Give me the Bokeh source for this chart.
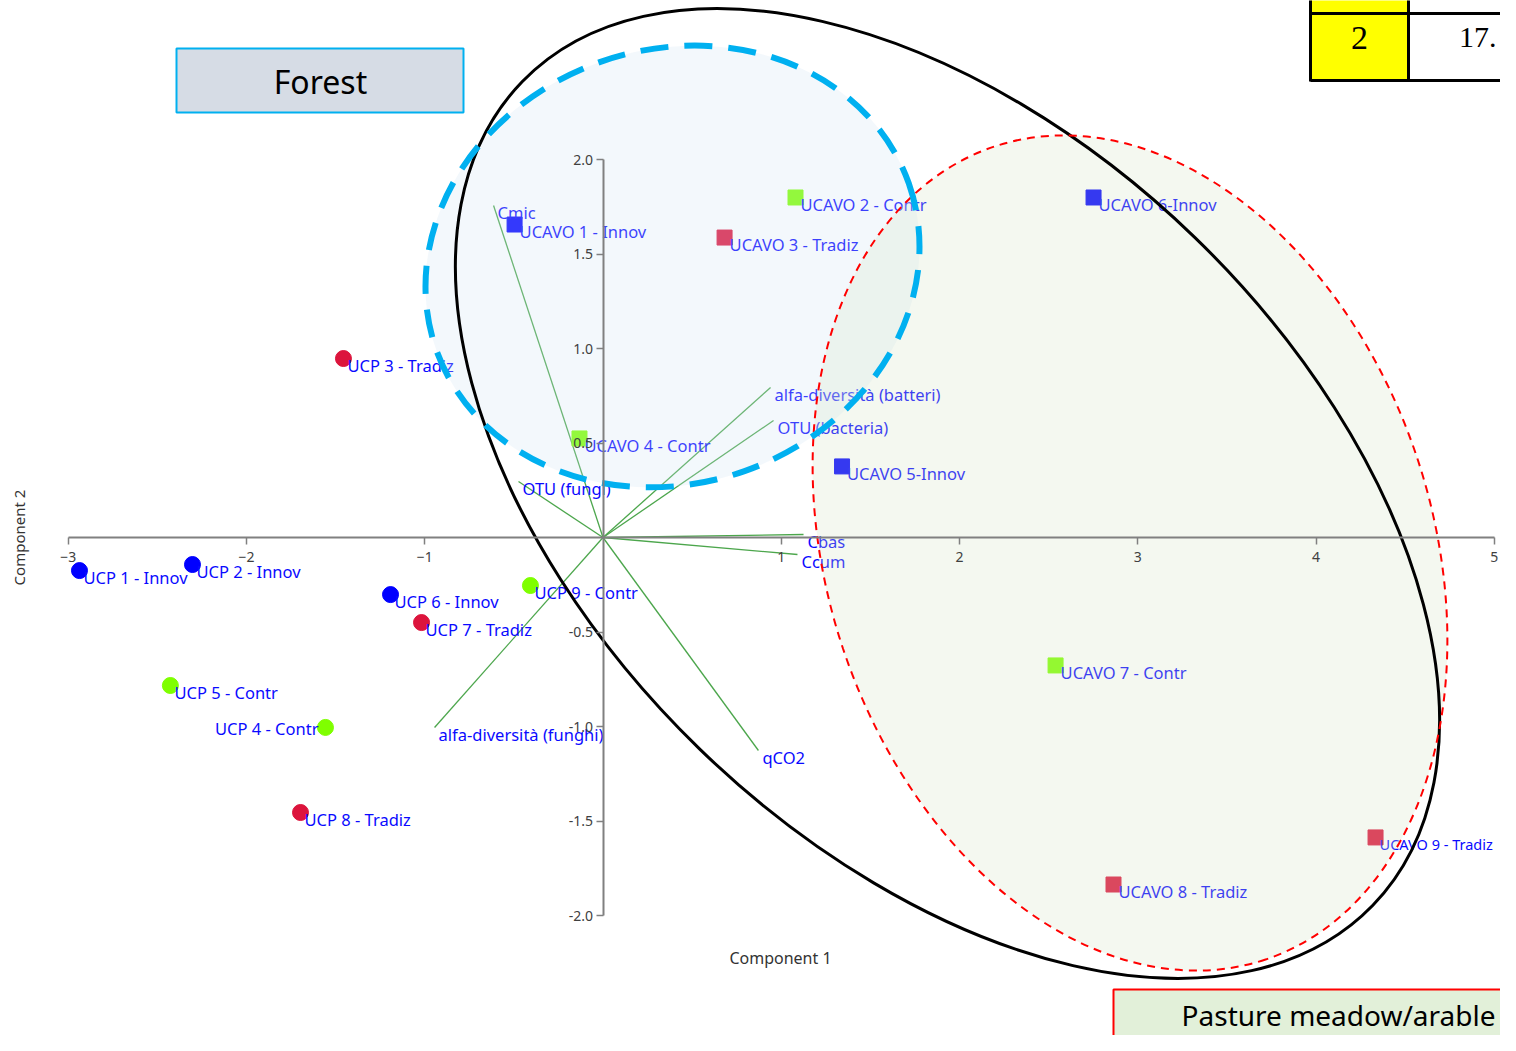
import numpy as np
from bokeh.plotting import figure
from bokeh.models import Range1d, FixedTicker, NumeralTickFormatter, BasicTickFormatter, ColumnDataSource
from bokeh.core.properties import value
from bokeh.embed import file_html
from bokeh.resources import INLINE

# ---------------- data ----------------
ucp_labels = ["UCP 1 - Innov", "UCP 2 - Innov", "UCP 3 - Tradiz", "UCP 4 - Contr", "UCP 5 - Contr",
              "UCP 6 - Innov", "UCP 7 - Tradiz", "UCP 8 - Tradiz", "UCP 9 - Contr"]
ucp_x = [-2.937, -2.303, -1.456, -1.557, -2.427, -1.192, -1.018, -1.697, -0.407]
ucp_y = [-0.175, -0.143, 0.947, -1.005, -0.783, -0.302, -0.450, -1.455, -0.254]
ucp_group = ["Innov", "Innov", "Tradiz", "Contr", "Contr", "Innov", "Tradiz", "Tradiz", "Contr"]

ucavo_labels = ["UCAVO 1 - Innov", "UCAVO 2 - Contr", "UCAVO 3 - Tradiz", "UCAVO 4 - Contr", "UCAVO 5-Innov",
                "UCAVO 6-Innov", "UCAVO 7 - Contr", "UCAVO 8 - Tradiz", "UCAVO 9 - Tradiz"]
ucavo_x = [-0.496, 1.080, 0.682, -0.132, 1.341, 2.752, 2.539, 2.864, 4.334]
ucavo_y = [1.656, 1.799, 1.587, 0.524, 0.376, 1.799, -0.677, -1.836, -1.587]
ucavo_group = ["Innov", "Contr", "Tradiz", "Contr", "Innov", "Innov", "Contr", "Tradiz", "Tradiz"]

loading_names = ["Cmic", "alfa-diversità (batteri)", "OTU (bacteria)", "OTU (fungi)", "Cbas", "Ccum",
                 "alfa-diversità (funghi)", "qCO2"]
loading_x = [-0.614, 0.940, 0.957, -0.474, 1.125, 1.091, -0.945, 0.872]
loading_y = [1.757, 0.794, 0.619, 0.296, 0.016, -0.090, -1.005, -1.127]

x_ticks = [-3, -2, -1, 1, 2, 3, 4, 5]
y_ticks = [-2.0, -1.5, -1.0, -0.5, 0.5, 1.0, 1.5, 2.0]

x_title = "Component 1"
y_title = "Component 2"
forest_text = "Forest"
pasture_text = "Pasture meadow/arable"
table_texts = ["2", "17."]

group_colors = {"Innov": "#0000ff", "Tradiz": "#dc143c", "Contr": "#7fff00"}

# ---------------- page geometry helpers (annotation placement) ----------------
X0, SX = 602.5, 178.25   # picture px of x=0, px per unit
Y0, SY = 537.0, 189.0
def px2x(px):
    return (px - X0) / SX
def py2y(py):
    return (Y0 - py) / SY

W, H = 1500, 1035
FONT = "Noto Sans"

p = figure(width=W, height=H, output_backend="svg", toolbar_location=None,
           x_range=Range1d(px2x(0), px2x(W)), y_range=Range1d(py2y(H), py2y(0)),
           min_border=0, min_border_left=0, min_border_right=0, min_border_top=0, min_border_bottom=0)
p.outline_line_color = None
p.grid.visible = False
p.background_fill_color = "white"

# axes crossing at origin
for ax in (p.xaxis[0], p.yaxis[0]):
    ax.fixed_location = 0
    ax.axis_line_color = "#808080"
    ax.axis_line_width = 2
    ax.major_tick_line_color = "#808080"
    ax.major_tick_line_width = 1.5
    ax.major_tick_in = 0
    ax.major_tick_out = 7
    ax.minor_tick_line_color = None
    ax.major_label_text_font = FONT
    ax.major_label_text_font_size = "14px"
    ax.major_label_text_color = "#404040"
    ax.axis_label = None
p.xaxis[0].bounds = (min(x_ticks), max(x_ticks))
p.yaxis[0].bounds = (min(y_ticks), max(y_ticks))
p.xaxis[0].ticker = FixedTicker(ticks=x_ticks, minor_ticks=[])
p.yaxis[0].ticker = FixedTicker(ticks=y_ticks, minor_ticks=[])
p.xaxis[0].formatter = BasicTickFormatter()
p.yaxis[0].formatter = NumeralTickFormatter(format="0.0")
p.xaxis[0].major_label_standoff = 7
p.yaxis[0].major_label_standoff = 3

# loading vectors
p.segment(x0=[0] * len(loading_x), y0=[0] * len(loading_y), x1=loading_x, y1=loading_y,
          line_color="#4ca64c", line_width=1.3)

# markers
ucp_src = ColumnDataSource(dict(x=ucp_x, y=ucp_y, label=ucp_labels,
                                color=[group_colors[g] for g in ucp_group]))
ucavo_src = ColumnDataSource(dict(x=ucavo_x, y=ucavo_y, label=ucavo_labels,
                                  color=[group_colors[g] for g in ucavo_group]))
p.scatter("x", "y", source=ucp_src, marker="circle", size=16, fill_color="color", line_color="color")
p.scatter("x", "y", source=ucavo_src, marker="square", size=15, fill_color="color", line_color="color")

LABEL_COLOR = "#0a0aff"
LABEL_SIZE = "16.5px"
right_idx = [i for i, l in enumerate(ucp_labels) if l == "UCP 4 - Contr"]
left_idx = [i for i in range(len(ucp_labels)) if i not in right_idx]
p.text(x=[ucp_x[i] for i in left_idx], y=[ucp_y[i] for i in left_idx], text=[ucp_labels[i] for i in left_idx],
       x_offset=4, y_offset=7, text_align="left", text_baseline="middle",
       text_font=value(FONT), text_font_size=LABEL_SIZE, text_color=LABEL_COLOR)
p.text(x=[ucp_x[i] for i in right_idx], y=[ucp_y[i] for i in right_idx], text=[ucp_labels[i] for i in right_idx],
       x_offset=-7, y_offset=1, text_align="right", text_baseline="middle",
       text_font=value(FONT), text_font_size=LABEL_SIZE, text_color=LABEL_COLOR)

# the label at the right edge is set a little smaller so it stays inside the canvas
edge_idx = [i for i, l in enumerate(ucavo_labels) if l == "UCAVO 9 - Tradiz"]
main_idx = [i for i in range(len(ucavo_labels)) if i not in edge_idx]
p.text(x=[ucavo_x[i] for i in main_idx], y=[ucavo_y[i] for i in main_idx], text=[ucavo_labels[i] for i in main_idx],
       x_offset=5, y_offset=7, text_align="left",
       text_baseline="middle", text_font=value(FONT), text_font_size=LABEL_SIZE, text_color=LABEL_COLOR)
p.text(x=[ucavo_x[i] for i in edge_idx], y=[ucavo_y[i] for i in edge_idx], text=[ucavo_labels[i] for i in edge_idx],
       x_offset=4, y_offset=7, text_align="left",
       text_baseline="middle", text_font=value(FONT), text_font_size="14.5px", text_color=LABEL_COLOR)
p.text(x=loading_x, y=loading_y, text=loading_names, x_offset=4, y_offset=7, text_align="left",
       text_baseline="middle", text_font=value(FONT), text_font_size=LABEL_SIZE, text_color=LABEL_COLOR)

# axis titles
p.text(x=[px2x(780)], y=[py2y(957)], text=[x_title], text_align="center", text_baseline="middle",
       text_font=value(FONT), text_font_size="16px", text_color="#333333")
p.text(x=[px2x(18)], y=[py2y(537)], text=[y_title], angle=90, angle_units="deg", text_align="center",
       text_baseline="middle", text_font=value(FONT), text_font_size="15px", text_color="#333333")

# ---------------- overlay shapes ----------------
# translucent fills
p.ellipse(x=[px2x(672)], y=[py2y(266)], width=501, height=434, width_units="screen", height_units="screen",
          angle=19.4, angle_units="deg", fill_color="#cfe3f3", fill_alpha=0.25, line_color=None)
p.ellipse(x=[px2x(1129.5)], y=[py2y(552.5)], width=857, height=605, width_units="screen", height_units="screen",
          angle=-71.55, angle_units="deg", fill_color="#d3e3c3", fill_alpha=0.25, line_color=None)
# outlines
p.ellipse(x=[px2x(947)], y=[py2y(493)], width=1184, height=712, width_units="screen", height_units="screen",
          angle=-44.1, angle_units="deg", fill_color=None, line_color="black", line_width=3)
p.ellipse(x=[px2x(1129.5)], y=[py2y(552.5)], width=857, height=605, width_units="screen", height_units="screen",
          angle=-71.55, angle_units="deg", fill_color=None, line_color="#ff0000", line_width=2, line_dash="8 6")
p.ellipse(x=[px2x(672)], y=[py2y(266)], width=501, height=434, width_units="screen", height_units="screen",
          angle=19.4, angle_units="deg", fill_color=None, line_color="#00b0f0", line_width=6, line_dash="28 16")

# Forest box
p.quad(left=[px2x(176)], right=[px2x(463)], top=[py2y(48)], bottom=[py2y(112)],
       fill_color="#d6dce5", line_color="#00b0f0", line_width=2)
p.text(x=[px2x(320)], y=[py2y(81)], text=[forest_text], text_align="center", text_baseline="middle",
       text_font=value(FONT), text_font_size="32px", text_color="black")

# Pasture box
p.quad(left=[px2x(1113)], right=[px2x(1540)], top=[py2y(989)], bottom=[py2y(1070)],
       fill_color="#e2f0d9", line_color="#ff0000", line_width=2)
p.text(x=[px2x(1495)], y=[py2y(1014)], text=[pasture_text], text_align="right", text_baseline="middle",
       text_font=value(FONT), text_font_size="28px", text_color="black")

# table fragment (top right)
p.quad(left=[px2x(1310)], right=[px2x(1408)], top=[py2y(-5)], bottom=[py2y(80)],
       fill_color="#ffff00", line_color=None)
p.segment(x0=[px2x(1310), px2x(1408), px2x(1310), px2x(1310)],
          y0=[py2y(-5), py2y(-5), py2y(13), py2y(80)],
          x1=[px2x(1310), px2x(1408), px2x(1540), px2x(1540)],
          y1=[py2y(81), py2y(81), py2y(13), py2y(80)],
          line_color="black", line_width=3)
p.text(x=[px2x(1359)], y=[py2y(37)], text=[table_texts[0]], text_align="center",
       text_baseline="middle", text_font=value("Liberation Serif"),
       text_font_size="34px", text_color="black")
p.text(x=[px2x(1496)], y=[py2y(37)], text=[table_texts[1]], text_align="right",
       text_baseline="middle", text_font=value("Liberation Serif"),
       text_font_size="30px", text_color="black")

open("out.html", "w").write(file_html(p, INLINE))
